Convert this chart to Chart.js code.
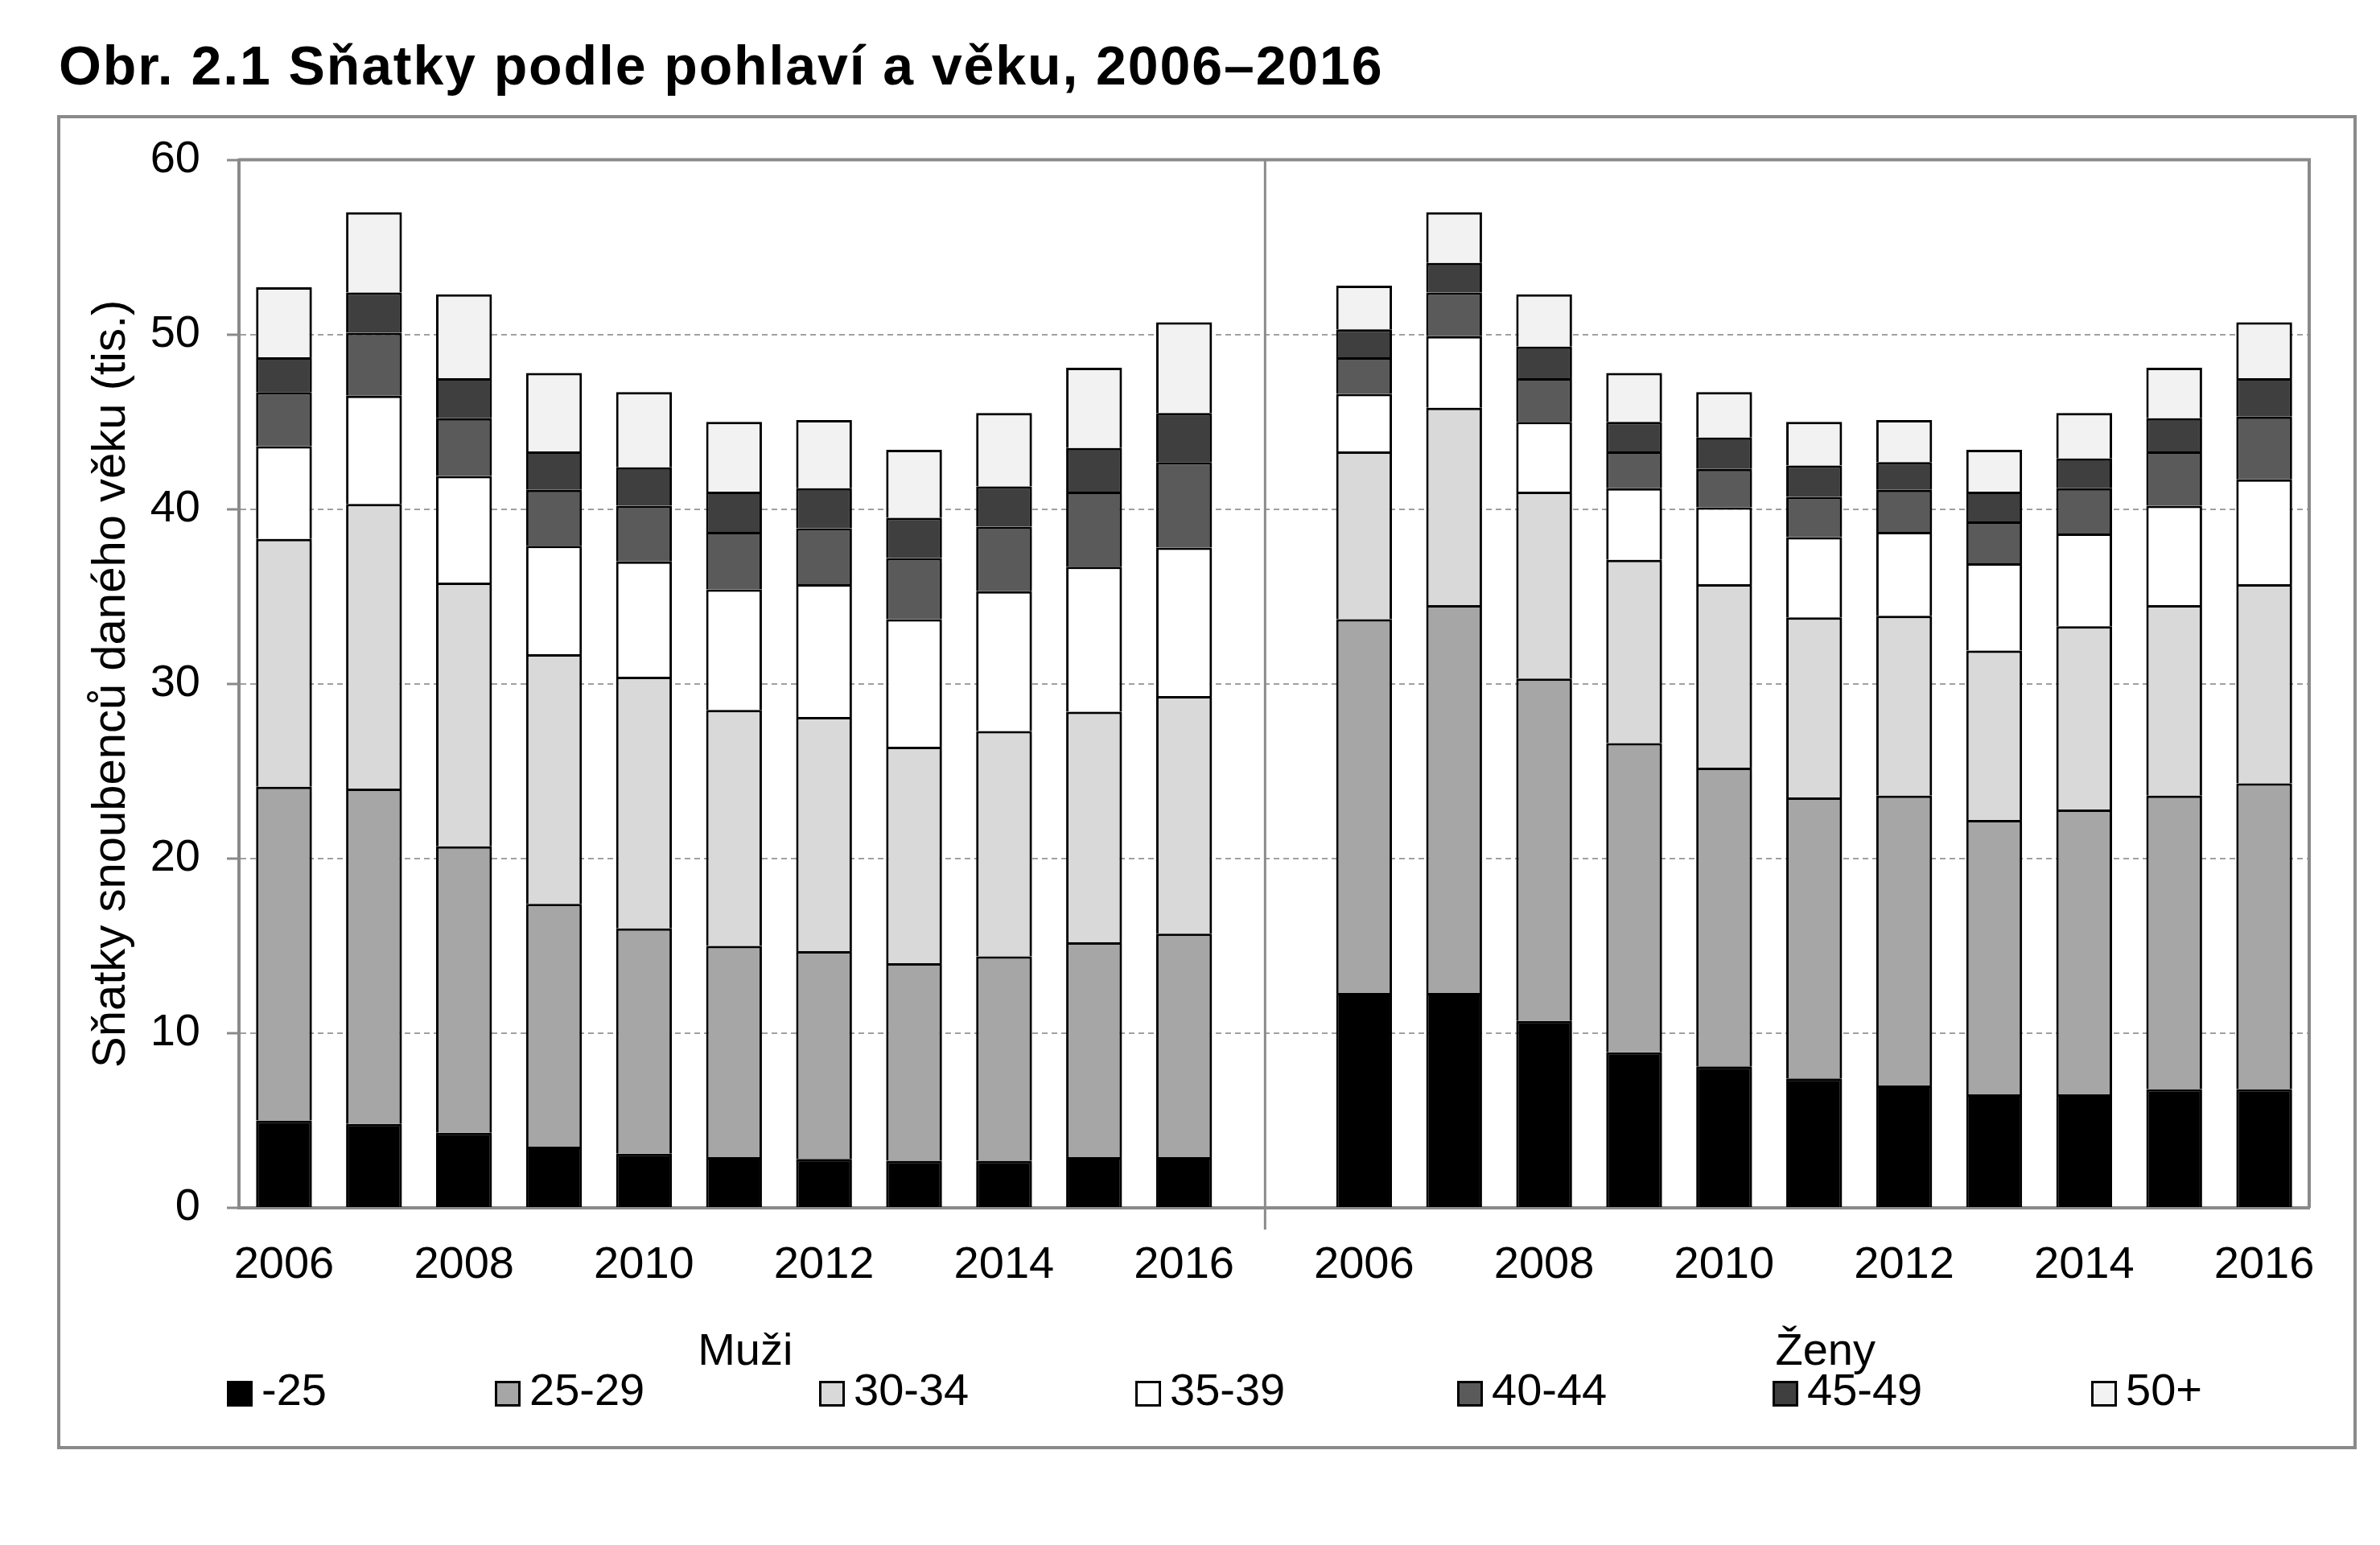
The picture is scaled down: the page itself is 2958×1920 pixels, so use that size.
<!DOCTYPE html>
<html>
<head>
<meta charset="utf-8">
<title>Sňatky podle pohlaví a věku, 2006–2016</title>
<script src="https://cdn.jsdelivr.net/npm/chart.js@4.4.1/dist/chart.umd.min.js"></script>
<style>
  html, body { margin: 0; padding: 0; background: #fff; }
</style>
</head>
<body>
<canvas id="myChart" width="2958" height="1920"></canvas>
<script>
const years = ['2006', '2007', '2008', '2009', '2010', '2011', '2012', '2013', '2014', '2015', '2016'];
const groups = ['Muži', 'Ženy'];
const ageLabels = ['-25', '25-29', '30-34', '35-39', '40-44', '45-49', '50+'];
const ageColors = ['#000000', '#a6a6a6', '#d9d9d9', '#ffffff', '#5a5a5a', '#3f3f3f', '#f2f2f2'];
const yTicks = [0, 10, 20, 30, 40, 50, 60];

// muži (tis.)
const muzi25   = [5.0, 4.8, 4.3, 3.5, 3.1, 2.9, 2.8, 2.7, 2.7, 2.9, 2.9];
const muzi2529 = [19.1, 19.2, 16.4, 13.9, 12.9, 12.1, 11.9, 11.3, 11.7, 12.3, 12.8];
const muzi3034 = [14.2, 16.3, 15.1, 14.3, 14.4, 13.5, 13.4, 12.4, 12.9, 13.2, 13.6];
const muzi3539 = [5.3, 6.2, 6.1, 6.2, 6.6, 6.9, 7.6, 7.3, 8.0, 8.3, 8.5];
const muzi4044 = [3.1, 3.6, 3.3, 3.2, 3.2, 3.3, 3.2, 3.5, 3.7, 4.3, 4.9];
const muzi4549 = [2.0, 2.3, 2.3, 2.2, 2.2, 2.3, 2.3, 2.3, 2.3, 2.5, 2.8];
const muzi50   = [4.0, 4.6, 4.8, 4.5, 4.3, 4.0, 3.9, 3.9, 4.2, 4.6, 5.2];

// ženy (tis.)
const zeny25   = [12.3, 12.3, 10.7, 8.9, 8.1, 7.4, 7.0, 6.5, 6.5, 6.8, 6.8];
const zeny2529 = [21.4, 22.2, 19.6, 17.7, 17.1, 16.1, 16.6, 15.7, 16.3, 16.8, 17.5];
const zeny3034 = [9.6, 11.3, 10.7, 10.5, 10.5, 10.3, 10.3, 9.7, 10.5, 10.9, 11.4];
const zeny3539 = [3.3, 4.1, 4.0, 4.1, 4.4, 4.6, 4.8, 5.0, 5.3, 5.7, 6.0];
const zeny4044 = [2.1, 2.5, 2.5, 2.1, 2.2, 2.3, 2.4, 2.4, 2.6, 3.1, 3.6];
const zeny4549 = [1.6, 1.7, 1.8, 1.7, 1.8, 1.8, 1.6, 1.7, 1.7, 1.9, 2.2];
const zeny50   = [2.5, 2.9, 3.0, 2.8, 2.6, 2.5, 2.4, 2.4, 2.6, 2.9, 3.2];

const muzi = [muzi25, muzi2529, muzi3034, muzi3539, muzi4044, muzi4549, muzi50];
const zeny = [zeny25, zeny2529, zeny3034, zeny3539, zeny4044, zeny4549, zeny50];

// muži | prázdné místo | ženy
const labels = years.concat([''], years);
const mid = Math.floor(years.length / 2);
const groupLabels = labels.map((l, i) => i === mid ? groups[0] : (i === years.length + 1 + mid ? groups[1] : ''));

const FONT = '"Liberation Sans", Arial, sans-serif';
Chart.defaults.font.family = FONT;
Chart.defaults.color = '#000';

const GRAY = '#8a8a8a';
const legendX = [282, 615, 1018, 1411, 1811, 2203, 2599];

// titulek je v originale sirsi -> proklad pismen jen pro nej; jemne stiny pod sloupci
const look = {
    id: 'look',
    beforeDraw(chart) {
        const tb = chart.titleBlock;
        if (tb && !tb._spaced) {
            const orig = tb.draw.bind(tb);
            tb.draw = (area) => {
                const c = chart.ctx;
                c.save();
                c.letterSpacing = '1.9px';
                orig(area);
                c.restore();
            };
            tb._spaced = true;
        }
    },
    beforeDatasetsDraw(chart) {
        const c = chart.ctx;
        c.save();
        c.shadowColor = 'rgba(0,0,0,0.3)';
        c.shadowBlur = 5;
        c.shadowOffsetX = 3;
        c.shadowOffsetY = 1;
    },
    afterDatasetsDraw(chart) {
        chart.ctx.restore();
    }
};

const decor = {
    id: 'decor',
    afterDraw(chart) {
        const {ctx, chartArea: a, scales: {x}} = chart;
        ctx.save();
        // ramecek plochy grafu
        ctx.strokeStyle = GRAY;
        ctx.lineWidth = 4;
        ctx.beginPath();
        ctx.moveTo(a.left, a.top);
        ctx.lineTo(a.right, a.top);
        ctx.lineTo(a.right, a.bottom);
        ctx.stroke();
        // delici cara muzi / zeny
        const step = x.getPixelForValue(1) - x.getPixelForValue(0);
        const dx = x.getPixelForValue(years.length) - 0.1 * step;
        ctx.lineWidth = 3;
        ctx.beginPath();
        ctx.moveTo(dx, a.top);
        ctx.lineTo(dx, a.bottom + 27);
        ctx.stroke();
        // vnejsi ramecek
        ctx.lineWidth = 4;
        ctx.strokeRect(73, 145, 2854, 1654);
        // legenda
        ctx.font = '56px ' + FONT;
        ctx.textBaseline = 'middle';
        ctx.textAlign = 'left';
        ageLabels.forEach((lab, i) => {
            const lx = legendX[i];
            ctx.fillStyle = '#000';
            ctx.fillRect(lx, 1716, 32, 32);
            ctx.fillStyle = ageColors[i];
            ctx.fillRect(lx + 3, 1719, 26, 26);
            ctx.fillStyle = '#000';
            ctx.fillText(lab, lx + 43, 1731);
        });
        ctx.restore();
    }
};

const ctx = document.getElementById('myChart');

new Chart(ctx, {
    type: 'bar',
    data: {
        labels: labels,
        datasets: ageLabels.map((lab, k) => ({
            label: lab,
            data: muzi[k].concat([null], zeny[k]),
            backgroundColor: ageColors[k],
            borderColor: '#000',
            borderWidth: 3,
            borderSkipped: 'start',
            categoryPercentage: 0.62,
            barPercentage: 1
        }))
    },
    options: {
        responsive: false,
        animation: false,
        layout: { padding: { left: 73, right: 88, top: 0, bottom: 0 } },
        plugins: {
            legend: { display: false },
            tooltip: { enabled: false },
            title: {
                display: true,
                text: 'Obr. 2.1 Sňatky podle pohlaví a věku, 2006–2016',
                align: 'start',
                color: '#000',
                font: { size: 68, weight: 'bold' },
                padding: { top: 45, bottom: 72 }
            }
        },
        scales: {
            x: {
                stacked: true,
                offset: true,
                grid: { display: false },
                border: { color: GRAY, width: 4 },
                ticks: {
                    autoSkip: false, maxRotation: 0, minRotation: 0, padding: 30,
                    font: { size: 56 },
                    callback: (v, i) => (labels[i] && +labels[i] % 2 === 0) ? labels[i] : ''
                },
                afterFit: s => { s.height = 100; }
            },
            x2: {
                type: 'category',
                position: 'bottom',
                labels: groupLabels,
                offset: true,
                grid: { display: false },
                border: { display: false },
                ticks: { autoSkip: false, maxRotation: 0, minRotation: 0, padding: 38, labelOffset: 14, font: { size: 56 } },
                afterFit: s => { s.height = 319; }
            },
            y: {
                stacked: true,
                min: 0,
                max: 60,
                afterBuildTicks: s => { s.ticks = yTicks.map(v => ({ value: v })); },
                ticks: { padding: 33, font: { size: 56 } },
                grid: { color: '#a0a0a0', lineWidth: 2, tickLength: 15, tickColor: GRAY, tickWidth: 3 },
                border: { color: GRAY, width: 4, dash: [7, 5] },
                title: {
                    display: true,
                    text: 'Sňatky snoubenců daného věku (tis.)',
                    font: { size: 58 },
                    padding: { top: 31, bottom: 0 }
                },
                afterFit: s => { s.width = 224; }
            }
        }
    },
    plugins: [look, decor]
});
</script>
</body>
</html>
